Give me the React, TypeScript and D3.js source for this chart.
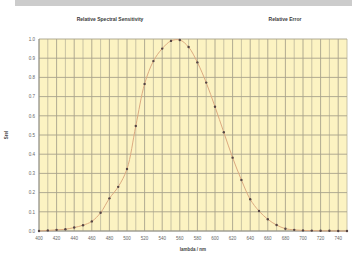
import React from 'react';
import * as d3 from 'd3';

const wavelengths = d3.range(400, 751, 10);
const sensitivity = [
  0.0, 0.003, 0.006, 0.009, 0.018, 0.03, 0.05, 0.095, 0.17, 0.23,
  0.323, 0.547, 0.766, 0.885, 0.95, 0.99, 0.995, 0.958, 0.878, 0.773,
  0.647, 0.514, 0.382, 0.266, 0.165, 0.104, 0.061, 0.031, 0.012, 0.006,
  0.003, 0.002, 0.001, 0.001, 0.0, 0.0,
];
const xTicks = d3.range(400, 741, 20);
const yTicks = d3.range(0, 1.01, 0.1);
const titles = ['Relative Spectral Sensitivity', 'Relative Error'];

const App: React.FC = () => {
  const W = 352;
  const H = 256;
  const m = { left: 39, right: 5, top: 39, bottom: 25 };

  const x = d3.scaleLinear().domain([400, 750]).range([m.left, W - m.right]);
  const y = d3.scaleLinear().domain([0, 1]).range([H - m.bottom, m.top]);

  const pts: [number, number][] = wavelengths.map((w, i) => [w, sensitivity[i]]);
  const line = d3.line<[number, number]>()
    .x(d => x(d[0]))
    .y(d => y(d[1]))
    .curve(d3.curveCatmullRom);

  const font = '"Liberation Sans", Arial, sans-serif';

  return (
    <svg width={W} height={H} style={{ position: 'fixed', left: 0, top: 0 }} fontFamily={font}>
      <rect x={0} y={0} width={W} height={H} fill="#fff" />
      {/* top bar */}
      <rect x={15} y={0} width={W - 15} height={6} fill="#cccccc" />

      {/* titles */}
      <text x={110} y={21} textAnchor="middle" fontSize={5} fontWeight="bold" fill="#3a3a3a">{titles[0]}</text>
      <text x={285} y={21} textAnchor="middle" fontSize={5} fontWeight="bold" fill="#3a3a3a">{titles[1]}</text>

      {/* plot background */}
      <rect x={m.left} y={m.top} width={W - m.left - m.right} height={H - m.top - m.bottom} fill="#fcf3c2" />

      {/* vertical grid */}
      {d3.range(400, 751, 10).map(v => (
        <line key={`vx-${v}`} x1={x(v)} x2={x(v)} y1={m.top} y2={H - m.bottom}
          stroke={v % 20 === 0 ? '#a8a38b' : '#c2bc9f'} strokeWidth={0.9} />
      ))}
      {/* horizontal grid */}
      {yTicks.map(v => (
        <line key={`hy-${v}`} x1={m.left} x2={W - m.right} y1={y(v)} y2={y(v)}
          stroke="#a8a38b" strokeWidth={0.9} />
      ))}

      {/* axes */}
      <line x1={m.left} x2={m.left} y1={m.top} y2={H - m.bottom} stroke="#8c8c8c" strokeWidth={0.8} />
      <line x1={m.left} x2={W - m.right} y1={H - m.bottom} y2={H - m.bottom} stroke="#8c8c8c" strokeWidth={0.8} />

      {/* y tick labels */}
      {yTicks.map(v => (
        <text key={`yl-${v}`} x={m.left - 4} y={y(v) + 1.7} textAnchor="end" fontSize={4.5} fill="#666">
          {d3.format('.1f')(v)}
        </text>
      ))}
      {/* x tick labels */}
      {xTicks.map(v => (
        <text key={`xl-${v}`} x={x(v)} y={H - m.bottom + 9} textAnchor="middle" fontSize={4.5} fill="#666">
          {v}
        </text>
      ))}

      {/* axis titles */}
      <text x={8} y={135} transform="rotate(-90 8 135)" textAnchor="middle" fontSize={4.5} fontWeight="bold" fill="#444">Srel</text>
      <text x={193} y={251} textAnchor="middle" fontSize={4.5} fontWeight="bold" fill="#444">lambda / nm</text>

      {/* curve */}
      <path d={line(pts) ?? ''} fill="none" stroke="#dcaa80" strokeWidth={1} />
      {pts.map((p, i) => (
        <circle key={`pt-${i}`} cx={x(p[0])} cy={y(p[1])} r={1.2} fill="#544444" />
      ))}
    </svg>
  );
};

export default App;
